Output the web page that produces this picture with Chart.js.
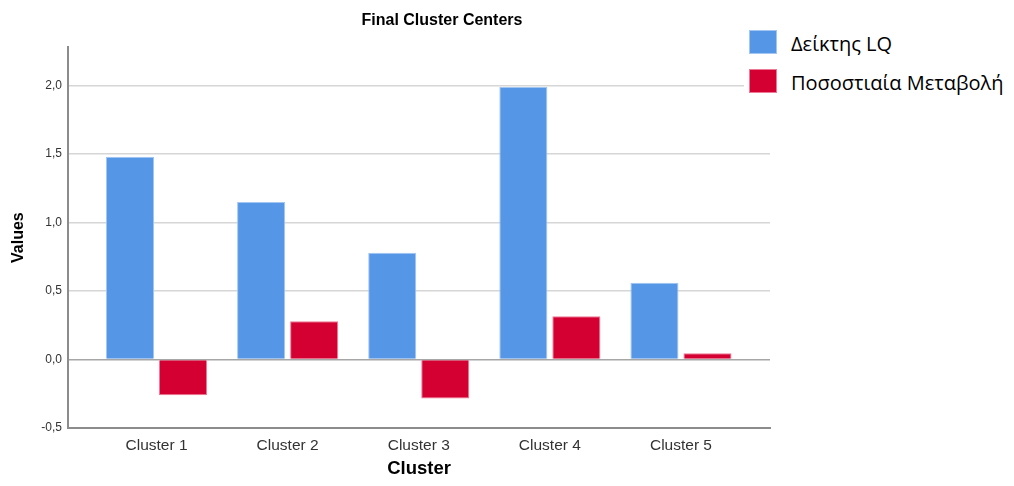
<!DOCTYPE html>
<html>
<head>
<meta charset="utf-8">
<title>Final Cluster Centers</title>
<script src="https://cdn.jsdelivr.net/npm/chart.js@4/dist/chart.umd.min.js"></script>
<style>
  html, body { margin: 0; padding: 0; background: #fff; }
  #wrap { position: relative; width: 1014px; height: 486px; overflow: hidden; }
  #chart { position: absolute; left: 0; top: 0; }
  #legend { position: absolute; left: 744px; top: 22px; width: 270px; height: 84px;
            background: #fff; padding: 8px 0 0 5px; box-sizing: border-box;
            font-family: "Open Sans", "Noto Sans", sans-serif; font-size: 20px; color: #000; }
  .item { display: flex; align-items: center; height: 24px; margin: 0 0 15px 0; }
  .sw { flex: none; width: 28px; height: 24px; margin-right: 14px; box-sizing: border-box; border: 1px solid; }
  .lbl { position: relative; top: 1px; white-space: nowrap; }
</style>
</head>
<body>
<div id="wrap">
  <canvas id="chart" width="884" height="486"></canvas>
  <div id="legend"></div>
</div>
<script>
// data
var categories = ['Cluster 1', 'Cluster 2', 'Cluster 3', 'Cluster 4', 'Cluster 5'];
var seriesNames = ['Δείκτης LQ', 'Ποσοστιαία Μεταβολή'];
var lqValues = [1.48, 1.15, 0.78, 1.99, 0.56];
var changeValues = [-0.26, 0.28, -0.285, 0.315, 0.045];
var yTicks = [-0.5, 0, 0.5, 1, 1.5, 2];
var yTickLabels = ['-0,5', '0,0', '0,5', '1,0', '1,5', '2,0'];

var fillColors = ['#5596E6', '#D50032'];
var edgeColors = ['#A3C6F1', '#EC7A96'];

function toPoints(vals) {
    return vals.map((v, i) => ({x: i + 1, y: v}));
}

var datasets = [lqValues, changeValues].map((vals, k) => ({
    label: seriesNames[k],
    data: toPoints(vals),
    backgroundColor: fillColors[k],
    borderColor: edgeColors[k],
    borderWidth: 1,
    barPercentage: 0.906,
    categoryPercentage: 0.809
}));

new Chart(document.getElementById('chart'), {
    type: 'bar',
    data: { datasets: datasets },
    options: {
        responsive: false,
        animation: false,
        layout: { padding: 0 },
        plugins: {
            legend: { display: false },
            tooltip: { enabled: false },
            title: {
                display: true,
                text: 'Final Cluster Centers',
                color: '#000',
                font: { family: '"Liberation Sans", Arial', size: 16, weight: 'bold' },
                padding: { top: 11, bottom: 17 }
            }
        },
        scales: {
            x: {
                type: 'linear',
                min: 0.325,
                max: 5.679,
                offset: false,
                afterBuildTicks: s => { s.ticks = categories.map((c, i) => ({value: i + 1})); },
                afterFit: s => { s.height = 58; },
                grid: { display: false, offset: false, drawTicks: false },
                border: { display: true, color: '#8c8c8c', width: 2 },
                ticks: {
                    padding: 8,
                    color: '#333',
                    font: { family: '"Liberation Sans", Arial', size: 15.5 },
                    callback: (v) => categories[v - 1]
                },
                title: {
                    display: true,
                    text: 'Cluster',
                    color: '#000',
                    font: { family: '"Liberation Sans", Arial', size: 18.5, weight: 'bold' },
                    padding: { top: 0, bottom: 6 }
                }
            },
            y: {
                min: -0.5,
                max: 2.28,
                afterBuildTicks: s => { s.ticks = yTicks.map(v => ({value: v})); },
                afterFit: s => { s.width = 68; },
                grid: {
                    drawTicks: false,
                    lineWidth: 1.5,
                    color: c => (c.tick && c.tick.value === 0) ? '#a6a6a6' : '#d6d6d6'
                },
                border: { display: true, color: '#8c8c8c', width: 2 },
                ticks: {
                    padding: 6,
                    color: '#333',
                    font: { family: '"Liberation Sans", Arial', size: 12 },
                    callback: (v, i) => yTickLabels[i]
                },
                title: {
                    display: true,
                    text: 'Values',
                    color: '#000',
                    font: { family: '"Liberation Sans", Arial', size: 16, weight: 'bold' },
                    padding: { top: 9, bottom: 0 }
                }
            },
            // empty right-hand margin so the plot ends where the reference does
            spacer: {
                type: 'linear',
                position: 'right',
                display: true,
                grid: { display: false, drawTicks: false },
                border: { display: false },
                ticks: { display: false },
                afterFit: s => { s.width = 114; }
            }
        }
    }
});

// legend built from the dataset labels
var legend = document.getElementById('legend');
datasets.forEach(function (ds) {
    var item = document.createElement('div');
    item.className = 'item';
    var sw = document.createElement('span');
    sw.className = 'sw';
    sw.style.background = ds.backgroundColor;
    sw.style.borderColor = ds.borderColor;
    var lbl = document.createElement('span');
    lbl.className = 'lbl';
    lbl.textContent = ds.label;
    item.appendChild(sw);
    item.appendChild(lbl);
    legend.appendChild(item);
});
</script>
</body>
</html>
